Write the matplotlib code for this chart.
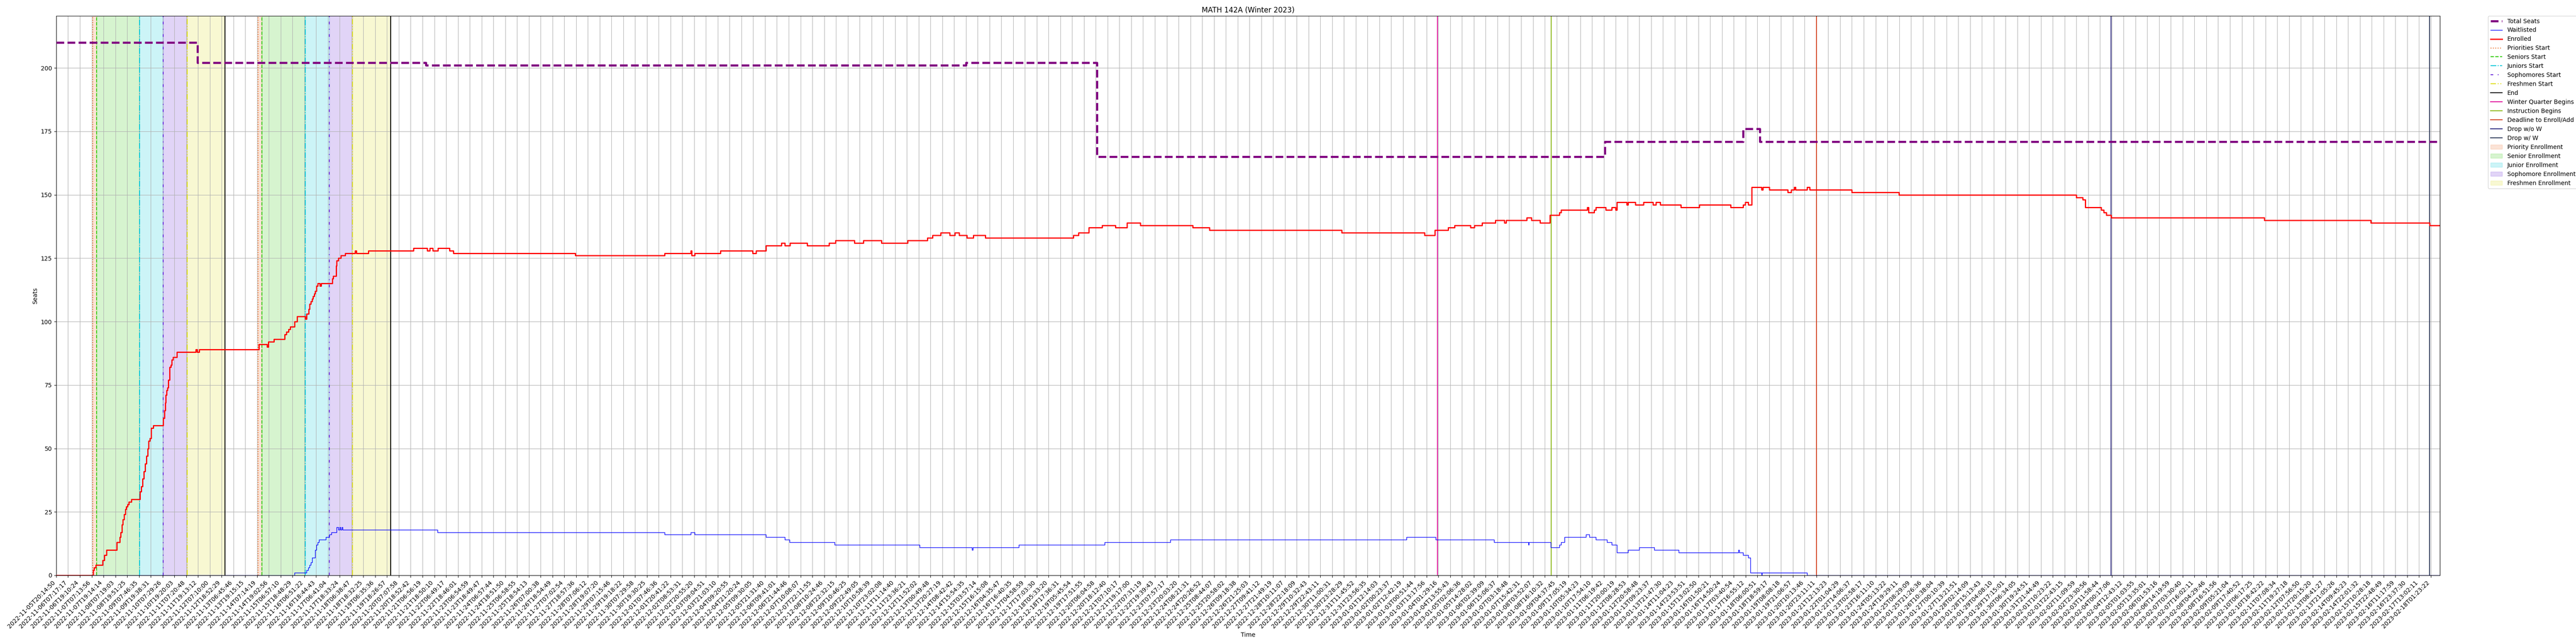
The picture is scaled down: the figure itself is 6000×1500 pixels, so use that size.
import matplotlib
matplotlib.use("Agg")
import matplotlib.pyplot as plt

# x positions are in sample-tick units (tick i sits at x = i)
tick_labels = [
    "2022-11-05T20:14:50", "2022-11-06T07:17:17", "2022-11-06T19:10:24", "2022-11-07T07:13:56", "2022-11-07T19:14:14",
    "2022-11-08T07:19:03", "2022-11-08T19:51:25", "2022-11-09T07:46:35", "2022-11-09T19:38:31", "2022-11-10T07:29:26",
    "2022-11-10T19:20:03", "2022-11-11T07:20:48", "2022-11-11T19:13:12", "2022-11-12T07:10:00", "2022-11-12T18:52:29",
    "2022-11-13T06:45:46", "2022-11-13T19:15:15", "2022-11-14T07:14:19", "2022-11-14T19:02:56", "2022-11-15T06:57:10",
    "2022-11-15T18:48:29", "2022-11-16T06:51:22", "2022-11-16T18:44:43", "2022-11-17T06:41:04", "2022-11-17T18:33:24",
    "2022-11-18T06:38:47", "2022-11-18T18:32:25", "2022-11-19T06:35:36", "2022-11-19T18:26:57", "2022-11-20T07:07:58",
    "2022-11-20T18:52:42", "2022-11-21T06:56:19", "2022-11-21T18:50:10", "2022-11-22T06:49:17", "2022-11-22T18:46:01",
    "2022-11-23T06:54:59", "2022-11-23T18:49:47", "2022-11-24T06:57:44", "2022-11-24T18:51:50", "2022-11-25T06:58:55",
    "2022-11-25T18:54:13", "2022-11-26T07:00:38", "2022-11-26T18:54:49", "2022-11-27T07:02:54", "2022-11-27T18:57:36",
    "2022-11-28T07:06:12", "2022-11-28T19:07:20", "2022-11-29T07:15:46", "2022-11-29T19:18:22", "2022-11-30T07:29:58",
    "2022-11-30T19:30:25", "2022-12-01T07:46:36", "2022-12-01T20:41:22", "2022-12-02T08:53:31", "2022-12-02T20:55:20",
    "2022-12-03T09:04:51", "2022-12-03T21:03:10", "2022-12-04T09:20:55", "2022-12-04T21:20:24", "2022-12-05T09:30:05",
    "2022-12-05T21:31:40", "2022-12-06T09:41:01", "2022-12-06T21:44:46", "2022-12-07T10:08:07", "2022-12-07T22:11:55",
    "2022-12-08T10:24:46", "2022-12-08T22:32:15", "2022-12-09T10:46:25", "2022-12-09T22:49:05", "2022-12-10T10:58:39",
    "2022-12-10T23:02:08", "2022-12-11T11:14:40", "2022-12-11T23:36:21", "2022-12-12T11:52:02", "2022-12-13T00:49:48",
    "2022-12-13T20:27:19", "2022-12-14T08:42:42", "2022-12-14T15:54:35", "2022-12-15T03:57:14", "2022-12-15T16:15:08",
    "2022-12-16T04:35:47", "2022-12-16T16:40:35", "2022-12-17T04:58:59", "2022-12-17T17:03:30", "2022-12-18T05:33:20",
    "2022-12-18T17:36:31", "2022-12-19T05:45:54", "2022-12-19T17:51:55", "2022-12-20T06:04:58", "2022-12-20T18:12:40",
    "2022-12-21T07:10:17", "2022-12-21T19:17:00", "2022-12-22T07:31:19", "2022-12-22T19:39:43", "2022-12-23T07:57:17",
    "2022-12-23T20:03:20", "2022-12-24T08:21:31", "2022-12-24T20:26:52", "2022-12-25T08:44:07", "2022-12-25T20:58:02",
    "2022-12-26T09:18:38", "2022-12-26T21:25:03", "2022-12-27T09:41:12", "2022-12-27T21:49:19", "2022-12-28T10:11:07",
    "2022-12-28T22:18:09", "2022-12-29T10:32:43", "2022-12-29T22:43:11", "2022-12-30T11:00:31", "2022-12-30T23:28:29",
    "2022-12-31T11:45:52", "2022-12-31T23:56:35", "2023-01-01T12:14:03", "2023-01-02T00:23:37", "2023-01-02T12:42:19",
    "2023-01-03T00:51:44", "2023-01-03T13:17:56", "2023-01-04T01:29:16", "2023-01-04T13:55:43", "2023-01-05T02:06:36",
    "2023-01-05T14:28:02", "2023-01-06T02:39:09", "2023-01-06T15:06:37", "2023-01-07T03:18:48", "2023-01-07T15:42:31",
    "2023-01-08T03:52:07", "2023-01-08T16:10:32", "2023-01-09T04:37:45", "2023-01-09T17:05:19", "2023-01-10T05:34:23",
    "2023-01-10T17:54:10", "2023-01-11T06:19:42", "2023-01-11T20:00:19", "2023-01-12T08:28:53", "2023-01-12T20:58:48",
    "2023-01-13T09:23:37", "2023-01-13T21:47:30", "2023-01-14T11:04:23", "2023-01-14T23:53:51", "2023-01-15T13:02:50",
    "2023-01-16T01:50:21", "2023-01-16T14:50:24", "2023-01-17T03:40:54", "2023-01-17T16:55:12", "2023-01-18T06:00:51",
    "2023-01-18T18:59:17", "2023-01-19T08:08:18", "2023-01-19T21:06:57", "2023-01-20T10:13:46", "2023-01-20T23:11:11",
    "2023-01-21T12:13:23", "2023-01-22T01:04:29", "2023-01-22T14:06:37", "2023-01-23T02:58:17", "2023-01-23T16:11:10",
    "2023-01-24T05:13:22", "2023-01-24T19:29:11", "2023-01-25T08:29:09", "2023-01-25T21:26:36", "2023-01-26T10:38:04",
    "2023-01-27T00:10:39", "2023-01-27T13:21:51", "2023-01-28T02:14:09", "2023-01-28T15:13:43", "2023-01-29T04:08:10",
    "2023-01-29T17:15:01", "2023-01-30T06:34:05", "2023-01-30T19:24:51", "2023-01-31T21:44:49", "2023-02-01T10:23:22",
    "2023-02-01T22:43:15", "2023-02-02T11:09:59", "2023-02-02T23:30:56", "2023-02-03T11:58:44", "2023-02-04T00:17:06",
    "2023-02-04T12:43:12", "2023-02-05T01:03:55", "2023-02-05T13:35:01", "2023-02-06T01:53:16", "2023-02-06T14:19:59",
    "2023-02-07T03:30:40", "2023-02-07T16:02:11", "2023-02-08T04:29:46", "2023-02-08T16:51:56", "2023-02-09T05:21:04",
    "2023-02-09T17:40:52", "2023-02-10T06:17:25", "2023-02-10T18:42:22", "2023-02-11T07:08:34", "2023-02-11T19:27:18",
    "2023-02-12T07:56:50", "2023-02-12T20:15:20", "2023-02-13T08:41:27", "2023-02-13T21:05:26", "2023-02-14T09:45:23",
    "2023-02-14T22:01:32", "2023-02-15T10:28:18", "2023-02-15T22:48:49", "2023-02-16T11:17:59", "2023-02-16T23:37:30",
    "2023-02-17T13:02:11", "2023-02-18T01:23:22",
]
x_end = 201.77

# step series: change points (x, value)
seats_x = [0, 11.97, 31.3, 77.0, 88.1, 131.1, 142.8, 144.2, x_end]
seats_y = [210, 202, 201, 202, 165, 171, 176, 171, 171]

enrolled_x = [
    0, 3.13, 3.2, 3.36, 3.94, 4.08, 4.24, 5.14, 5.38, 5.47, 5.56, 5.65, 5.75, 5.84, 5.93, 6.03, 6.14, 6.37,
    7.07, 7.18, 7.32, 7.42, 7.53, 7.65, 7.74, 7.83, 7.93, 8.02, 8.23,
    9.04, 9.15, 9.22, 9.27, 9.34, 9.41, 9.5, 9.59, 9.69, 9.78, 9.87, 10.2,
    11.82, 11.91, 12.1,
    17.15, 17.84, 17.96, 18.42, 19.35, 19.47, 19.65, 19.81, 20.16, 20.39,
    21.09, 21.2, 21.37, 21.46, 21.55, 21.65, 21.74, 21.83, 21.92, 22.02, 22.13, 22.32, 22.41,
    23.36, 23.45, 23.68, 23.75, 23.87, 24.1, 24.45, 25.31, 25.42, 26.42,
    30.24, 31.4, 31.63, 31.86, 32.3, 33.3, 33.6, 43.93, 51.49, 53.72, 53.78, 54.05, 56.22, 58.94, 59.22,
    60.06, 61.39, 61.67, 62.11, 63.56, 65.4, 65.95, 67.56, 68.34, 69.85, 72.07, 73.74, 74.18, 74.85,
    75.63, 76.07, 76.41, 77.08, 77.63, 78.63, 86.09, 86.53, 87.42, 88.53, 89.64, 90.65, 91.76, 96.21,
    97.6, 108.8, 115.82, 116.71, 117.82, 118.38, 119.71, 120.04, 120.71, 121.82, 122.6, 122.71, 124.49,
    124.88, 125.61, 126.44, 127.22, 127.39, 129.61, 129.72, 130.17, 130.33, 131.17, 131.67, 132.0,
    132.11, 132.95, 133.06, 133.67, 134.34, 135.17, 135.4, 135.78, 137.51, 139.07, 141.73, 142.79,
    142.96, 143.24, 143.51, 144.35, 144.46, 145.02, 146.57, 146.85, 147.13, 147.24, 148.19, 148.41,
    151.97, 155.97, 170.99, 171.55, 171.77, 173.1, 173.33, 173.55, 173.94, 186.9, 195.91, 200.91, x_end,
]
enrolled_y = [
    0, 2, 3, 4, 6, 8, 10, 13, 15, 17, 20, 22, 24, 26, 27, 28, 29, 30,
    33, 35, 38, 41, 44, 47, 50, 53, 54, 58, 59,
    62, 65, 68, 71, 73, 74, 77, 82, 83, 85, 86, 88,
    89, 88, 89,
    91, 90, 92, 93, 95, 96, 97, 98, 100, 102,
    101, 103, 105, 107, 108, 109, 110, 111, 112, 114, 115, 114, 115,
    117, 118, 122, 124, 125, 126, 127, 128, 127, 128,
    129, 128, 129, 128, 129, 128, 127, 126, 127, 128, 126, 127, 128, 127, 128,
    130, 131, 130, 131, 130, 131, 132, 131, 132, 131, 132, 133, 134, 135,
    134, 135, 134, 133, 134, 133, 134, 135, 137, 138, 137, 139, 138, 137,
    136, 135, 134, 136, 137, 138, 137, 138, 139, 140, 139, 140, 141,
    140, 139, 142, 143, 144, 145, 143, 144, 145, 144, 145, 144,
    147, 146, 147, 146, 147, 146, 147, 146, 145, 146, 145, 146,
    147, 146, 153, 152, 153, 152, 151, 152, 153, 152, 153, 152,
    151, 150, 149, 148, 145, 144, 143, 142, 141, 140, 139, 138, 138,
]

waitlist_x = [
    0, 20.16, 21.2, 21.32, 21.44, 21.55, 21.67, 21.9, 22.02, 22.13, 22.25, 22.83, 23.1, 23.29, 23.75,
    23.87, 23.99, 24.06, 24.17, 24.24, 32.28, 51.49, 53.72, 54.05, 60.06, 61.67, 62.06, 65.9, 73.07,
    77.52, 77.6, 81.47, 88.76, 94.32, 114.3, 116.75, 121.71, 124.6, 124.66, 126.5, 127.22, 127.39,
    127.66, 129.5, 129.78, 130.33, 131.28, 131.67, 132.11, 133.06, 134.0, 135.28, 137.34, 142.4,
    142.45, 142.79, 143.24, 143.4, 144.35, 144.4, 148.19, x_end,
]
waitlist_y = [
    0, 1, 2, 3, 4, 5, 7, 10, 12, 13, 14, 15, 16, 17, 19,
    18, 19, 18, 19, 18, 17, 16, 17, 16, 15, 14, 13, 12, 11,
    10, 11, 12, 13, 14, 15, 14, 13, 12, 13, 11, 12, 13,
    15, 16, 15, 14, 13, 12, 9, 10, 11, 10, 9, 10,
    9, 8, 7, 1, 0, 1, 0, 0,
]

# enrollment passes: priority, senior, junior, sophomore, freshman, end
pass_starts = [
    [3.08, 3.41, 7.06, 9.05, 11.08, 14.29],
    [17.07, 17.4, 21.09, 23.1, 25.09, 28.31],
]
pass_names = ["Priorities Start", "Seniors Start", "Juniors Start", "Sophomores Start", "Freshmen Start"]
span_names = ["Priority Enrollment", "Senior Enrollment", "Junior Enrollment",
              "Sophomore Enrollment", "Freshmen Enrollment"]
event_names = ["Winter Quarter Begins", "Instruction Begins", "Deadline to Enroll/Add", "Drop w/o W", "Drop w/ W"]
event_x = [116.9, 126.55, 149.02, 173.94, 200.9]

pass_colors = ["#ee7733", "#33cc11", "#00c8d8", "#6a2bd9", "#dede1e"]
pass_styles = [":", "--", "-.", (0, (3, 5, 1, 5)), (0, (6, 2, 1, 2, 1, 2))]
event_colors = ["#e0119b", "#8db81a", "#d4411f", "#2d2a80", "#2f3b5a"]

fig = plt.figure(figsize=(60, 15), dpi=100)
ax = fig.add_axes([0.02183, 0.10667, 0.92533, 0.86867])

ax.plot(seats_x, seats_y, drawstyle="steps-post", color="purple", linewidth=3.5,
        linestyle="--", label="Total Seats", zorder=5)
ax.plot(waitlist_x, waitlist_y, drawstyle="steps-post", color="blue", linewidth=1,
        label="Waitlisted", zorder=4)
ax.plot(enrolled_x, enrolled_y, drawstyle="steps-post", color="red", linewidth=2,
        label="Enrolled", zorder=4)

for p, starts in enumerate(pass_starts):
    for i in range(5):
        ax.axvline(starts[i], color=pass_colors[i], linestyle=pass_styles[i], linewidth=1.5,
                   label=pass_names[i] if p == 0 else None)
    ax.axvline(starts[5], color="black", linewidth=1.5, label="End" if p == 0 else None)

for name, xv, c in zip(event_names, event_x, event_colors):
    ax.axvline(xv, color=c, linewidth=1.5, label=name)

for p, starts in enumerate(pass_starts):
    for i in range(5):
        ax.axvspan(starts[i], starts[i + 1], color=pass_colors[i], alpha=0.2,
                   label=span_names[i] if p == 0 else None)

ax.set_xlim(0, x_end)
ax.set_ylim(0, 220.5)
ax.set_xticks(range(len(tick_labels)))
ax.set_xticklabels(tick_labels, rotation=45, ha="right")
ax.grid(True)
ax.set_title("MATH 142A (Winter 2023)")
ax.set_xlabel("Time")
ax.set_ylabel("Seats")
ax.legend(loc="upper left", bbox_to_anchor=(1.0202, 1.0), borderaxespad=0)

fig.savefig("out.png", dpi=100)
